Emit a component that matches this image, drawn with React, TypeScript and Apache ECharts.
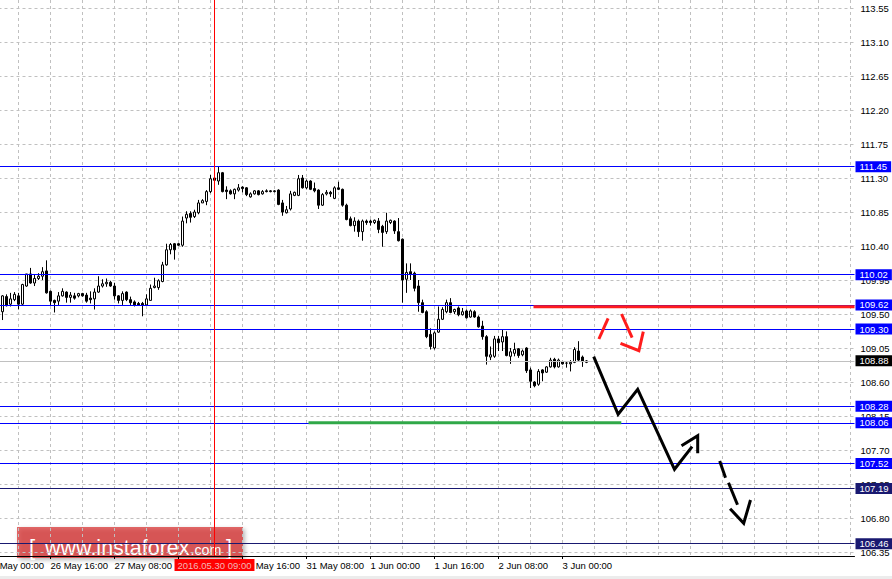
import React, { useEffect, useRef } from "react";
import * as echarts from "echarts";

// ---- price data (H1 bars, first bar = 26 May 03:00) ----
const opens = [
  109.60, 109.53, 109.73, 109.63, 109.69, 109.74, 109.63, 109.87, 110.03, 109.91,
  109.97, 110.00, 110.07, 109.80, 109.68, 109.67, 109.74, 109.79, 109.72, 109.74,
  109.74, 109.77, 109.75, 109.71, 109.70, 109.79, 109.87, 109.90, 109.92, 109.87,
  109.74, 109.68, 109.79, 109.69, 109.66, 109.64, 109.64, 109.62, 109.68, 109.85,
  109.85, 109.93, 110.15, 110.35, 110.43, 110.43, 110.41, 110.77, 110.83, 110.79,
  110.84, 110.97, 110.99, 111.12, 111.30, 111.26, 111.37, 111.14, 111.13, 111.09,
  111.14, 111.18, 111.17, 111.05, 111.09, 111.13, 111.09, 111.13, 111.13, 111.12,
  111.14, 110.97, 110.84, 110.89, 111.07, 111.07, 111.30, 111.17, 111.26, 111.16,
  111.14, 110.94, 111.09, 111.11, 111.03, 111.17, 111.15, 110.94, 110.76, 110.67,
  110.73, 110.59, 110.73, 110.73, 110.71, 110.73, 110.66, 110.59, 110.71, 110.73,
  110.59, 110.49, 109.96, 110.06, 110.04, 109.87, 109.65, 109.53, 109.23, 109.05,
  109.26, 109.43, 109.53, 109.65, 109.53, 109.58, 109.49, 109.54, 109.46, 109.53,
  109.46, 109.34, 109.20, 108.93, 108.94, 109.17, 109.13, 109.20, 108.94, 108.98,
  109.04, 108.96, 109.05, 108.76, 108.60, 108.57, 108.76, 108.73, 108.80, 108.90,
  108.80, 108.87, 108.85, 108.84, 108.86, 109.01, 108.93, 108.86,
];
const highs = [
  109.66, 109.75, 109.76, 109.78, 109.79, 109.78, 109.90, 110.03, 110.11, 110.02,
  110.04, 110.12, 110.21, 109.81, 109.69, 109.79, 109.84, 109.80, 109.79, 109.78,
  109.78, 109.78, 109.78, 109.80, 109.84, 110.00, 109.96, 109.97, 109.94, 109.91,
  109.75, 109.80, 109.80, 109.73, 109.68, 109.66, 109.66, 109.76, 109.89, 109.98,
  109.96, 110.19, 110.43, 110.44, 110.44, 110.44, 110.79, 110.86, 110.86, 110.88,
  111.01, 111.02, 111.14, 111.34, 111.32, 111.45, 111.38, 111.19, 111.15, 111.16,
  111.22, 111.19, 111.18, 111.11, 111.14, 111.14, 111.14, 111.15, 111.14, 111.14,
  111.15, 111.01, 110.93, 111.13, 111.12, 111.34, 111.34, 111.28, 111.27, 111.24,
  111.15, 111.10, 111.14, 111.13, 111.19, 111.25, 111.16, 110.96, 110.79, 110.78,
  110.75, 110.75, 110.75, 110.75, 110.75, 110.77, 110.68, 110.84, 110.75, 110.74,
  110.77, 110.50, 110.17, 110.17, 110.06, 109.95, 109.69, 109.55, 109.31, 109.27,
  109.60, 109.59, 109.69, 109.71, 109.57, 109.60, 109.58, 109.56, 109.56, 109.55,
  109.48, 109.41, 109.22, 109.07, 109.21, 109.21, 109.29, 109.27, 109.05, 109.12,
  109.05, 109.03, 109.06, 108.79, 108.61, 108.77, 108.77, 108.81, 108.92, 108.92,
  108.91, 108.88, 108.87, 108.89, 109.06, 109.14, 108.95, 108.89,
];
const lows = [
  109.47, 109.42, 109.60, 109.60, 109.67, 109.56, 109.61, 109.86, 109.90, 109.87,
  109.95, 109.95, 109.77, 109.62, 109.52, 109.62, 109.73, 109.65, 109.65, 109.69,
  109.72, 109.73, 109.65, 109.64, 109.56, 109.78, 109.85, 109.86, 109.86, 109.69,
  109.64, 109.62, 109.67, 109.62, 109.60, 109.61, 109.47, 109.61, 109.68, 109.84,
  109.82, 109.92, 110.14, 110.29, 110.22, 110.40, 110.39, 110.70, 110.71, 110.77,
  110.82, 110.97, 110.94, 111.10, 111.24, 111.21, 111.11, 111.02, 111.08, 111.02,
  111.12, 111.11, 111.06, 111.04, 111.08, 111.07, 111.08, 111.11, 111.11, 111.11,
  110.94, 110.80, 110.83, 110.87, 111.06, 111.06, 111.16, 111.15, 111.14, 111.11,
  110.89, 110.93, 111.07, 111.05, 111.02, 111.14, 110.92, 110.74, 110.66, 110.59,
  110.52, 110.47, 110.68, 110.67, 110.69, 110.57, 110.39, 110.56, 110.69, 110.56,
  110.46, 109.65, 109.78, 109.95, 109.80, 109.53, 109.51, 109.18, 109.03, 109.03,
  109.25, 109.42, 109.51, 109.51, 109.50, 109.47, 109.48, 109.44, 109.45, 109.45,
  109.32, 109.16, 108.83, 108.89, 108.92, 109.01, 109.01, 108.94, 108.84, 108.94,
  108.92, 108.94, 108.72, 108.52, 108.53, 108.55, 108.61, 108.72, 108.79, 108.78,
  108.79, 108.83, 108.79, 108.74, 108.85, 108.87, 108.80, 108.85,
];
const closes = [
  109.54, 109.74, 109.61, 109.70, 109.76, 109.63, 109.89, 110.03, 109.91, 109.97,
  110.00, 110.06, 109.78, 109.67, 109.65, 109.74, 109.80, 109.72, 109.75, 109.71,
  109.77, 109.74, 109.67, 109.69, 109.79, 109.87, 109.90, 109.92, 109.87, 109.74,
  109.68, 109.77, 109.69, 109.65, 109.62, 109.62, 109.62, 109.70, 109.84, 109.87,
  109.94, 110.15, 110.35, 110.42, 110.35, 110.41, 110.73, 110.82, 110.78, 110.85,
  110.97, 111.00, 111.12, 111.29, 111.27, 111.37, 111.12, 111.12, 111.09, 111.15,
  111.17, 111.16, 111.08, 111.09, 111.13, 111.08, 111.12, 111.12, 111.12, 111.13,
  110.95, 110.85, 110.88, 111.09, 111.11, 111.29, 111.17, 111.26, 111.15, 111.13,
  110.94, 111.08, 111.11, 111.09, 111.17, 111.15, 110.94, 110.75, 110.67, 110.73,
  110.59, 110.73, 110.71, 110.71, 110.74, 110.62, 110.58, 110.73, 110.74, 110.60,
  110.47, 109.95, 110.05, 110.03, 109.84, 109.65, 109.52, 109.20, 109.07, 109.25,
  109.43, 109.56, 109.65, 109.52, 109.56, 109.49, 109.53, 109.45, 109.54, 109.46,
  109.33, 109.20, 108.94, 108.96, 109.17, 109.12, 109.20, 108.95, 109.00, 109.03,
  108.95, 109.01, 108.75, 108.61, 108.55, 108.74, 108.72, 108.80, 108.89, 108.80,
  108.89, 108.84, 108.85, 108.86, 109.03, 108.89, 108.87, 108.88,
];

// ---- axis / level values ----
const FIRST_BAR_SLOT = 3; // slot 0 = 26 May 00:00
const SLOT_COUNT = 218;
const priceTickMin = 106.35;
const priceTickMax = 113.55;
const priceTickStep = 0.45;
const blueLevels = [111.45, 110.02, 109.62, 109.3, 108.28, 108.06, 107.52];
const navyLevels = [107.19, 106.46];
const currentPrice = 108.88;
const crosshairSlot = 57;
const crosshairText = "2016.05.30 09:00";
const monthNames = ["Jan", "Feb", "Mar", "Apr", "May", "Jun", "Jul", "Aug", "Sep", "Oct", "Nov", "Dec"];

// ---- hand-drawn annotations: [bar slot, price] ----
const supportZone = [[80.5, 108.06], [158.7, 108.06]];
const resistanceZone = [[136.75, 109.597], [217, 109.597]];
const forecastMain = [[151.8, 108.935], [157.9, 108.173], [162.8, 108.503], [172.0, 107.445], [176.4, 107.744]];
const forecastMainHead = [[173.75, 107.757], [177.8, 107.889], [177.8, 107.656]];
const forecastDashA = [[183.3, 107.555], [184.75, 107.333]];
const forecastDashB = [[185.5, 107.267], [187.75, 106.976]];
const forecastDashHead = [[185.9, 106.923], [189.3, 106.73], [191.0, 107.038]];
const altUp = [[153.1, 109.169], [155.4, 109.443]];
const altDown = [[158.75, 109.5], [161.4, 109.186]];
const altHead = [[158.5, 109.112], [163.1, 109.014], [164.2, 109.266]];

const FONT = '"Liberation Sans", Arial, sans-serif';

function pad2(n: number) {
  return n < 10 ? "0" + n : String(n);
}

function buildCategories(): string[] {
  const out: string[] = [];
  let t = Date.UTC(2016, 4, 26, 0);
  while (out.length < SLOT_COUNT) {
    const d = new Date(t);
    const wd = d.getUTCDay();
    if (wd !== 0 && wd !== 6) {
      out.push(`${d.getUTCDate()} ${monthNames[d.getUTCMonth()]} ${pad2(d.getUTCHours())}:00`);
    }
    t += 3600000;
  }
  return out;
}

export default function App() {
  const ref = useRef<HTMLDivElement>(null);
  useEffect(() => {
    if (!ref.current) return;
    const chart = echarts.init(ref.current, undefined, { renderer: "svg" });
    const categories = buildCategories();
    const lastSlot = FIRST_BAR_SLOT + opens.length - 1;
    const candles = opens.map((o, i) => [FIRST_BAR_SLOT + i, o, closes[i], lows[i], highs[i]]);

    // full plot extends 8px above the top tick and 4px below bottom tick
    const pxPerPrice = 34 / priceTickStep;
    const fullMax = priceTickMax + 8 / pxPerPrice;
    const fullMin = priceTickMin - 4 / pxPerPrice;

    const labelShow = (idx: number) => idx % 16 === 0 && idx <= lastSlot;

    const levelLine = (v: number, color: string, bg: string, txt: string) => ({
      yAxis: v,
      lineStyle: { color, width: 1, type: "solid" },
      label: {
        show: true,
        position: "end",
        distance: 1,
        formatter: v.toFixed(2),
        backgroundColor: bg,
        color: txt,
        padding: [1, 4, 0, 4],
        lineHeight: 10,
        fontSize: 9.5,
        fontFamily: FONT,
      },
    });

    const annot = (data: number[][], color: string, width: number) => ({
      type: "line",
      xAxisIndex: 1,
      yAxisIndex: 0,
      data,
      symbol: "none",
      silent: true,
      z: 5,
      lineStyle: { color, width, cap: "butt", join: "miter" },
    });

    chart.setOption({
      animation: false,
      backgroundColor: "#ffffff",
      grid: [
        { left: -13.5, right: 37.5, top: 0, bottom: 23, containLabel: false, outerBoundsMode: "none" },
        { left: -13.5, right: 37.5, top: 8, bottom: 27, containLabel: false, outerBoundsMode: "none" },
      ],
      xAxis: [
        {
          type: "category",
          gridIndex: 0,
          data: categories,
          boundaryGap: false,
          axisLine: { lineStyle: { color: "#000", width: 1 } },
          axisTick: { show: true, interval: (i: number) => labelShow(i), length: 3, lineStyle: { color: "#000" } },
          axisLabel: {
            interval: (i: number) => labelShow(i),
            align: "left",
            color: "#000",
            fontSize: 9.5,
            fontFamily: FONT,
            margin: 4,
          },
          splitLine: { show: true, interval: 7, lineStyle: { color: "#c0c0c0", type: [3, 3], width: 1 } },
        },
        { type: "value", gridIndex: 0, min: 0, max: SLOT_COUNT - 1, show: false },
        { type: "value", gridIndex: 1, min: 0, max: 1, show: false },
      ],
      yAxis: [
        {
          type: "value",
          gridIndex: 0,
          position: "right",
          min: fullMin,
          max: fullMax,
          axisLine: { show: true, lineStyle: { color: "#000", width: 1 } },
          axisTick: { show: false },
          axisLabel: { show: false },
          splitLine: { show: false },
        },
        {
          type: "value",
          gridIndex: 1,
          position: "right",
          min: priceTickMin,
          max: priceTickMax,
          interval: priceTickStep,
          axisLine: { show: false },
          axisTick: { show: true, length: 3, lineStyle: { color: "#000" } },
          axisLabel: {
            formatter: (v: number) => v.toFixed(2),
            color: "#000",
            fontSize: 9.5,
            fontFamily: FONT,
            margin: 6,
          },
          splitLine: { show: true, lineStyle: { color: "#c0c0c0", type: [3, 3], width: 1 } },
        },
      ],
      series: [
        {
          type: "candlestick",
          xAxisIndex: 0,
          yAxisIndex: 0,
          data: candles,
          encode: { x: 0, y: [1, 2, 3, 4] },
          barWidth: 2,
          silent: true,
          itemStyle: {
            color: "#ffffff",
            color0: "#000000",
            borderColor: "#000000",
            borderColor0: "#000000",
            borderWidth: 1,
          },
          markLine: {
            symbol: ["none", "none"],
            silent: true,
            animation: false,
            data: [
              ...blueLevels.map((v) => levelLine(v, "#0000ff", "#0000ff", "#ffffff")),
              ...navyLevels.map((v) => levelLine(v, "#191970", "#191970", "#ffffff")),
              levelLine(currentPrice, "#c0c0c0", "#000000", "#ffffff"),
              {
                xAxis: categories[crosshairSlot],
                lineStyle: { color: "#ff0000", width: 1, type: "solid" },
                label: {
                  show: true,
                  position: "start",
                  distance: 3,
                  formatter: crosshairText,
                  backgroundColor: "#ff0000",
                  color: "#f2b6b6",
                  padding: [1, 3, 0, 3],
                  lineHeight: 11,
                  fontSize: 9.5,
                  fontFamily: FONT,
                },
              },
            ],
          },
        },
        annot(resistanceZone, "#ff1c1c", 3),
        annot(supportZone, "#30a848", 3),
        annot(forecastMain, "#000000", 3),
        annot(forecastMainHead, "#000000", 3),
        annot(forecastDashA, "#000000", 3),
        annot(forecastDashB, "#000000", 3),
        annot(forecastDashHead, "#000000", 3),
        annot(altUp, "#ff1c1c", 3),
        annot(altDown, "#ff1c1c", 3),
        annot(altHead, "#ff1c1c", 3),
        { type: "line", xAxisIndex: 2, yAxisIndex: 1, data: [], silent: true },
      ],
      graphic: [
        {
          type: "rect",
          x: 0,
          y: 576,
          shape: { width: 892, height: 3 },
          style: { fill: "#ececec" },
          silent: true,
        },
        {
          type: "group",
          x: 17,
          y: 527,
          z: 100,
          silent: true,
          children: [
            {
              type: "rect",
              shape: { x: 0, y: 0, width: 226, height: 31 },
              style: {
                fill: "rgba(212,34,38,0.68)",
                shadowBlur: 4,
                shadowOffsetX: 2,
                shadowOffsetY: 2,
                shadowColor: "rgba(0,0,0,0.4)",
              },
            },
            {
              type: "text",
              style: { text: "[", x: 12, y: 20, fill: "#ffffff", font: `22px ${FONT}`, verticalAlign: "middle" },
            },
            {
              type: "text",
              style: { text: "www.instaforex", x: 28, y: 20.5, fill: "#ffffff", font: `21.5px ${FONT}`, verticalAlign: "middle" },
            },
            {
              type: "text",
              style: { text: ".com", x: 173.5, y: 23, fill: "#ffffff", font: `14.3px ${FONT}`, verticalAlign: "middle" },
            },
            {
              type: "text",
              style: { text: "]", x: 209, y: 20, fill: "#ffffff", font: `22px ${FONT}`, verticalAlign: "middle" },
            },
          ],
        },
      ],
    });
    return () => chart.dispose();
  }, []);
  return (
    <div
      ref={ref}
      style={{ position: "fixed", left: 0, top: 0, width: 892, height: 579, background: "#fff" }}
    />
  );
}
